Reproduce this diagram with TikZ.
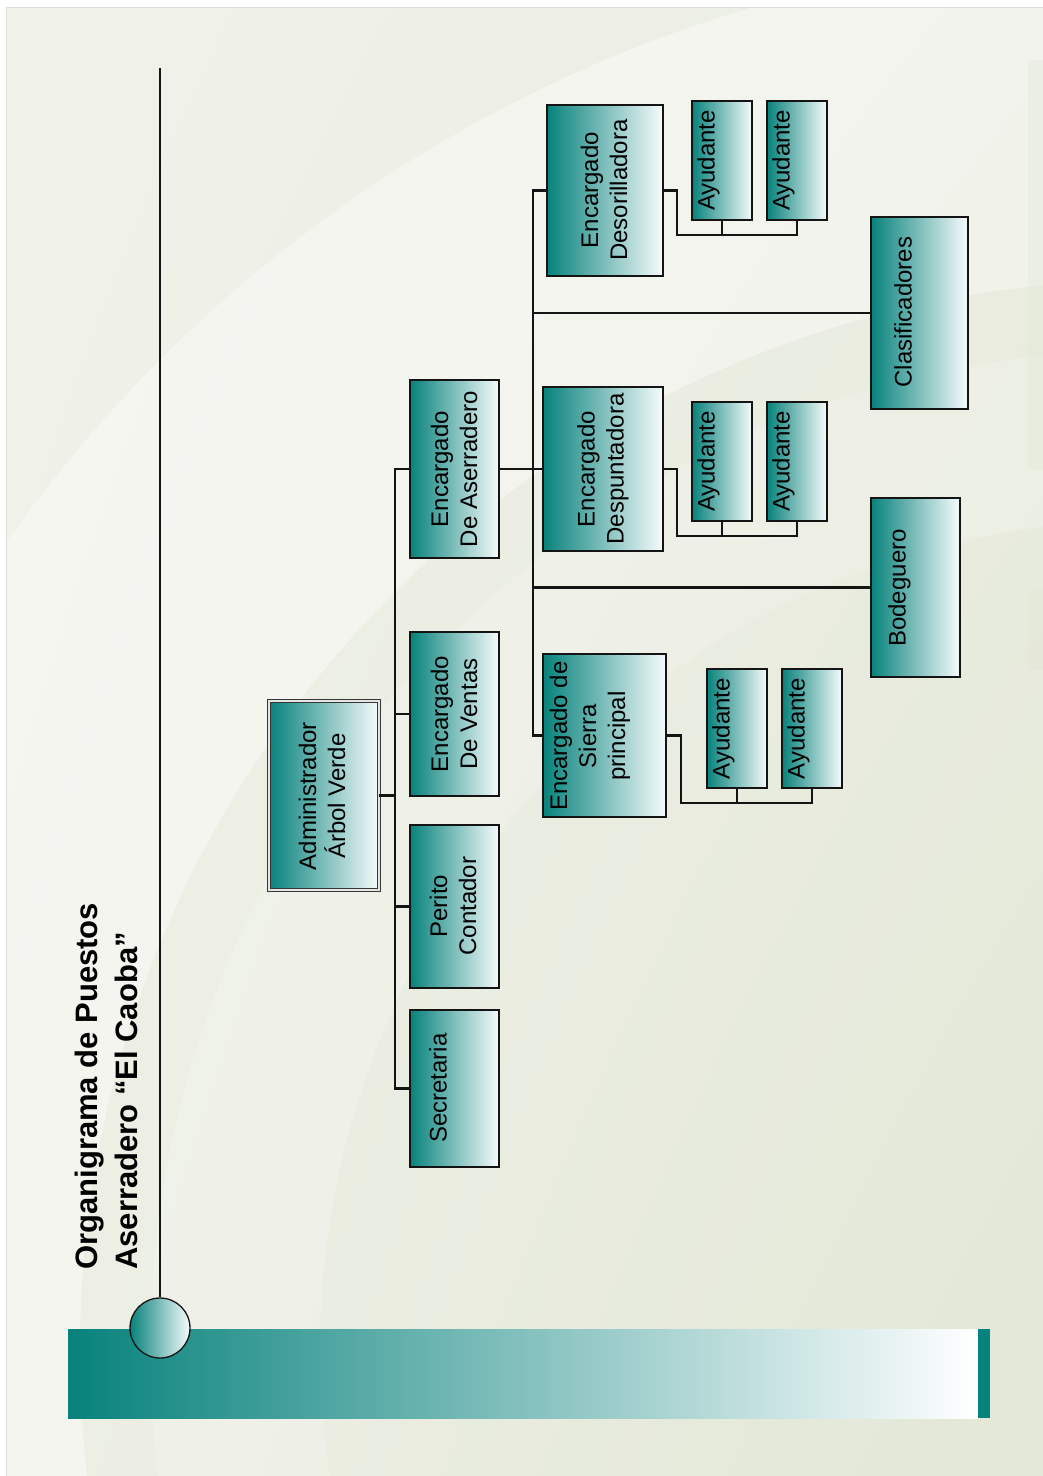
\documentclass[tikz,border=0pt]{standalone}
\usepackage{fontspec}
\setmainfont{Liberation Sans}
\usetikzlibrary{shadings}
\definecolor{bgA}{RGB}{241,242,234}
\definecolor{bgB}{RGB}{226,231,214}
\definecolor{tealA}{RGB}{8,130,124}
\definecolor{tealW}{RGB}{246,251,251}
\definecolor{ink}{RGB}{20,20,20}
\definecolor{edge}{RGB}{222,222,216}
\begin{document}
\begin{tikzpicture}[x=1pt,y=-1pt,
  box/.style={draw=ink, line width=1.9pt, left color=tealA, right color=tealW, inner sep=0pt, outer sep=0pt, rectangle},
  ayu/.style={box, minimum width=60pt, minimum height=119pt},
  lbl/.style={rotate=90, align=center, inner sep=0pt, text=black, font=\fontsize{24}{29}\selectfont},
  conn/.style={draw=ink, line width=2.2pt}
]
% page and background
\fill[white] (0,0) rectangle (1043,1476);
\useasboundingbox (0,0) rectangle (1043,1476);
\begin{scope}
  \clip (6,7) rectangle (1043,1476);
  \shade[upper left=bgA, lower right=bgB, upper right=bgA!55!bgB, lower left=bgA!75!bgB] (6,7) rectangle (1043,1476);
  \fill[white, opacity=0.38, even odd rule] (1150,1350) circle[radius=1400pt] (1150,1350) circle[radius=1070pt];
  \fill[white, opacity=0.2, even odd rule] (1150,1350) circle[radius=1000pt] (1150,1350) circle[radius=830pt];
  \fill[bgB, opacity=0.35] (1028,60) rectangle (1043,470);
  \fill[bgB, opacity=0.35] (1028,588) rectangle (1043,670);
\end{scope}
\draw[edge, line width=0.8pt] (6,1476) -- (6,7) -- (1043,7);

% bottom bar and knob
\shade[left color=tealA, right color=white] (68,1329) rectangle (978,1418);
\fill[tealA] (978,1329) rectangle (990,1418);
\coordinate (linetop) at (160,68);
\node[circle, draw=ink, line width=1.3pt, left color=tealA, right color=tealW, minimum size=60pt, inner sep=0pt] (knob) at (160,1328) {};
\draw[ink, line width=1.4pt] (linetop) -- (knob.north);

% title
\node[rotate=90, anchor=north west, align=left, inner sep=0pt, text=black,
      font=\bfseries\fontsize{31}{40}\selectfont] (title) at (75,1270)
      {Organigrama de Puestos\\Aserradero “El Caoba”};

% boxes
\node[box, draw=ink!85, line width=1.4pt, double=white!80!gray, double distance=2pt,
      minimum width=110pt, minimum height=189pt] (admin) at (324,795.5) {};
\node[box, minimum width=89pt, minimum height=157pt] (secre) at (454.5,1088.5) {};
\node[box, minimum width=89pt, minimum height=163pt] (perito) at (454.5,906.5) {};
\node[box, minimum width=89pt, minimum height=164pt] (ventas) at (454.5,714) {};
\node[box, minimum width=89pt, minimum height=178pt] (aserr) at (454.5,469) {};
\node[box, minimum width=116pt, minimum height=171pt] (desor) at (605,190.5) {};
\node[box, minimum width=120pt, minimum height=164pt] (despu) at (603,469) {};
\node[box, minimum width=123pt, minimum height=163pt] (sierra) at (604.5,735.5) {};
\node[box, minimum width=97pt, minimum height=192pt] (clasif) at (919.5,313) {};
\node[box, minimum width=89pt, minimum height=179pt] (bodeg) at (915.5,587.5) {};
\node[ayu] (a11) at (722,160.5) {};
\node[ayu] (a12) at (797,160.5) {};
\node[ayu] (a21) at (722,461.5) {};
\node[ayu] (a22) at (797,461.5) {};
\node[ayu] (a31) at (737,728.5) {};
\node[ayu] (a32) at (812,728.5) {};

% connector helpers
\coordinate (bus1) at (395,0);
\coordinate (bus2) at (533,0);
\coordinate (j1) at (677,235);
\coordinate (j2) at (677,536);
\coordinate (j3) at (681,803);

% level 1
\draw[conn] (aserr.west) -- (aserr.west -| bus1) |- (secre.west);
\draw[conn] (ventas.west) -- (ventas.west -| bus1);
\draw[conn] (perito.west) -- (perito.west -| bus1);
\draw[conn] (admin.east) -- (admin.east -| bus1);
% level 2
\draw[conn] (aserr.east) -- (despu.west);
\draw[conn] (desor.west) -- (desor.west -| bus2) |- (sierra.west);
\draw[conn] (clasif.west) -- (clasif.west -| bus2);
\draw[conn] (bodeg.west) -- (bodeg.west -| bus2);
% ayudantes
\draw[conn] (desor.east) -- (desor.east -| j1) -- (j1) -- (a12.south |- j1) -- (a12.south);
\draw[conn] (a11.south) -- (a11.south |- j1);
\draw[conn] (despu.east) -- (despu.east -| j2) -- (j2) -- (a22.south |- j2) -- (a22.south);
\draw[conn] (a21.south) -- (a21.south |- j2);
\draw[conn] (sierra.east) -- (sierra.east -| j3) -- (j3) -- (a32.south |- j3) -- (a32.south);
\draw[conn] (a31.south) -- (a31.south |- j3);

% labels
\node[lbl] (tadmin) at (322,796) {Administrador\\Árbol Verde};
\node[lbl] (tsecre) at (438,1088) {Secretaria};
\node[lbl] (tperito) at (453,906) {Perito\\Contador};
\node[lbl] (tventas) at (454,714) {Encargado\\De Ventas};
\node[lbl] (taserr) at (454,469) {Encargado\\De Aserradero};
\node[lbl] (tdesor) at (604,190) {Encargado\\Desorilladora};
\node[lbl] (tdespu) at (603,469) {Encargado\\Despuntadora};
\node[lbl] (tsierra) at (590,736) {Encargado de\\Sierra\\principal};
\node[lbl] (tclasif) at (903,312) {Clasificadores};
\node[lbl] (tbodeg) at (899.5,588) {Bodeguero};
\node[lbl] (ta11) at (708.5,160.5) {Ayudante};
\node[lbl] (ta12) at (783.5,160.5) {Ayudante};
\node[lbl] (ta21) at (708.5,461.5) {Ayudante};
\node[lbl] (ta22) at (783.5,461.5) {Ayudante};
\node[lbl] (ta31) at (723.5,728.5) {Ayudante};
\node[lbl] (ta32) at (798.5,728.5) {Ayudante};
\end{tikzpicture}
\end{document}
